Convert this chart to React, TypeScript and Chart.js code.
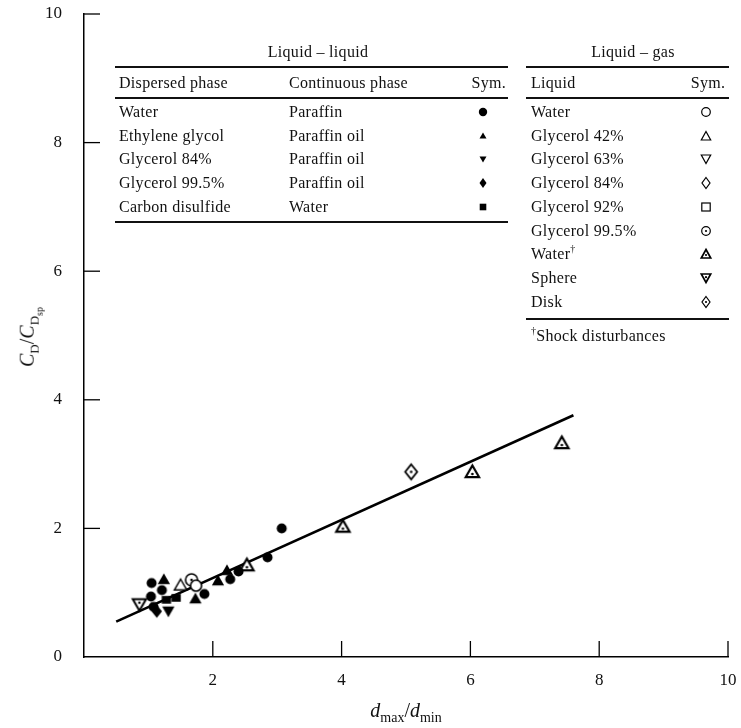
import React, { useEffect, useRef } from "react";
import { Chart, registerables } from "chart.js";
Chart.register(...registerables);

// ---------- axis ticks ----------
const xTicks = [2, 4, 6, 8, 10];
const yTicks = [0, 2, 4, 6, 8, 10];

// ---------- liquid – liquid (filled symbols) ----------
const waterParaffinX = [1.04, 1.05, 1.08, 1.21, 1.87, 2.27, 2.40, 2.85, 3.07];
const waterParaffinY = [0.94, 1.15, 0.78, 1.04, 0.98, 1.21, 1.33, 1.55, 2.00];
const ethyleneGlycolX = [1.24, 1.73, 2.08, 2.22];
const ethyleneGlycolY = [1.20, 0.90, 1.18, 1.34];
const glycerol84LLX = [1.31];
const glycerol84LLY = [0.72];
const glycerol995LLX = [1.13];
const glycerol995LLY = [0.71];
const carbonDisulfideX = [1.28, 1.43];
const carbonDisulfideY = [0.89, 0.92];

// ---------- liquid – gas (open symbols) ----------
const waterGasX = [1.74];
const waterGasY = [1.11];
const glycerol42X = [1.50];
const glycerol42Y = [1.11];
const glycerol995GasX = [1.67];
const glycerol995GasY = [1.20];
const waterShockX = [2.53, 4.02, 6.03, 7.42];
const waterShockY = [1.42, 2.02, 2.87, 3.32];
const sphereX = [0.86];
const sphereY = [0.83];
const diskX = [5.08];
const diskY = [2.88];

// ---------- correlation line ----------
const fitX = [0.5, 7.6];
const fitY = [0.55, 3.76];

// ---------- legend tables ----------
const llDispersed = ["Water", "Ethylene glycol", "Glycerol 84%", "Glycerol 99.5%", "Carbon disulfide"];
const llContinuous = ["Paraffin", "Paraffin oil", "Paraffin oil", "Paraffin oil", "Water"];
const llSymbols = ["fCircle", "fTri", "fTriDown", "fDiamond", "fSquare"];
const lgLiquids = ["Water", "Glycerol 42%", "Glycerol 63%", "Glycerol 84%", "Glycerol 92%", "Glycerol 99.5%", "Water", "Sphere", "Disk"];
const lgDagger = [false, false, false, false, false, false, true, false, false];
const lgSymbols = ["oCircle", "oTri", "oTriDown", "oDiamond", "oSquare", "oCircleDot", "oTriDot", "oTriDownDot", "oDiamondDot"];

const FONT = '"Liberation Serif", "Times New Roman", serif';

function zip(xs: number[], ys: number[]) {
  return xs.map((x, i) => ({ x, y: ys[i] }));
}

function shapePath(ctx: CanvasRenderingContext2D, kind: string, cx: number, cy: number, s: number) {
  ctx.beginPath();
  if (kind.includes("Circle")) {
    ctx.arc(cx, cy, s, 0, Math.PI * 2);
  } else if (kind.includes("TriDown")) {
    ctx.moveTo(cx - s * 0.95, cy - s * 0.65);
    ctx.lineTo(cx + s * 0.95, cy - s * 0.65);
    ctx.lineTo(cx, cy + s);
    ctx.closePath();
  } else if (kind.includes("Tri")) {
    ctx.moveTo(cx, cy - s);
    ctx.lineTo(cx + s * 0.95, cy + s * 0.65);
    ctx.lineTo(cx - s * 0.95, cy + s * 0.65);
    ctx.closePath();
  } else if (kind.includes("Diamond")) {
    ctx.moveTo(cx, cy - s);
    ctx.lineTo(cx + s * 0.8, cy);
    ctx.lineTo(cx, cy + s);
    ctx.lineTo(cx - s * 0.8, cy);
    ctx.closePath();
  } else {
    ctx.rect(cx - s * 0.85, cy - s * 0.7, s * 1.7, s * 1.4);
  }
}

function makeMarker(kind: string, s: number, lw: number) {
  const size = Math.ceil(2 * (s + lw + 1));
  const c = document.createElement("canvas");
  c.width = size;
  c.height = size;
  const ctx = c.getContext("2d")!;
  const cx = size / 2;
  const cy = size / 2;
  shapePath(ctx, kind, cx, cy, s);
  if (kind.startsWith("f")) {
    ctx.fillStyle = "#000";
    ctx.fill();
  } else {
    ctx.fillStyle = "#fff";
    ctx.fill();
    ctx.lineWidth = lw;
    ctx.strokeStyle = "#000";
    ctx.stroke();
    if (kind.endsWith("Dot")) {
      ctx.beginPath();
      const dy = kind.includes("TriDown") ? -1 : kind.includes("Tri") ? 1.5 : 0;
      ctx.arc(cx, cy + dy, 1.3, 0, Math.PI * 2);
      ctx.fillStyle = "#000";
      ctx.fill();
    }
  }
  return c;
}

function Sym({ kind }: { kind: string }) {
  const f = kind.startsWith("f");
  const common = f
    ? { fill: "#000" }
    : { fill: "none", stroke: "#000", strokeWidth: kind.endsWith("Dot") && kind.includes("Tri") ? 1.7 : 1.2 };
  let el: any = null;
  if (kind === "fCircle") el = <circle cx={7} cy={7} r={4.2} {...common} />;
  else if (kind === "fTri") el = <polygon points="7,3.5 10.5,9.5 3.5,9.5" {...common} />;
  else if (kind === "fTriDown") el = <polygon points="3.5,4.5 10.5,4.5 7,10.5" {...common} />;
  else if (kind === "fDiamond") el = <polygon points="7,2 10.5,7 7,12 3.5,7" {...common} />;
  else if (kind === "fSquare") el = <rect x={3.7} y={3.7} width={6.6} height={6.6} {...common} />;
  else if (kind.startsWith("oCircle")) el = <circle cx={7} cy={7} r={4.3} {...common} />;
  else if (kind.startsWith("oTriDown")) el = <polygon points="2.3,3 11.7,3 7,11.5" {...common} />;
  else if (kind.startsWith("oTri")) el = <polygon points="7,2.5 11.7,11 2.3,11" {...common} />;
  else if (kind.startsWith("oDiamond")) el = <polygon points="7,1.5 11,7 7,12.5 3,7" {...common} />;
  else if (kind.startsWith("oSquare")) el = <rect x={2.8} y={3} width={8.4} height={8} {...common} />;
  let dot: any = null;
  if (kind.endsWith("Dot")) {
    const dy = kind.includes("TriDown") ? 6.2 : kind.includes("Tri") ? 8 : 7;
    dot = <circle cx={7} cy={dy} r={1.1} fill="#000" />;
  }
  return (
    <svg width={14} height={14} viewBox="0 0 14 14" style={{ display: "block" }}>
      {el}
      {dot}
    </svg>
  );
}

function Txt({ x, y, children, align = "left", size = 16, style = {} }: any) {
  const tr = align === "center" ? "translateX(-50%)" : align === "right" ? "translateX(-100%)" : undefined;
  return (
    <div
      style={{
        position: "absolute",
        left: x,
        top: y - 11,
        height: 22,
        lineHeight: "22px",
        fontSize: size,
        whiteSpace: "nowrap",
        transform: tr,
        fontFamily: FONT,
        color: "#111",
        letterSpacing: "0.3px",
        ...style,
      }}
    >
      {children}
    </div>
  );
}

function Dagger() {
  return <span style={{ fontSize: 10, position: "relative", top: -7, lineHeight: 0 }}>†</span>;
}

function HLine({ x1, x2, y }: { x1: number; x2: number; y: number }) {
  return <div style={{ position: "absolute", left: x1, top: y - 1, width: x2 - x1, height: 2, background: "#111" }} />;
}

function SymAt({ x, y, kind }: { x: number; y: number; kind: string }) {
  return (
    <div style={{ position: "absolute", left: x - 7, top: y - 7 }}>
      <Sym kind={kind} />
    </div>
  );
}

export default function App() {
  const ref = useRef<HTMLCanvasElement | null>(null);

  useEffect(() => {
    document.body.style.margin = "0";
    const canvas = ref.current!;
    const M = (k: string, s: number, lw = 1.5) => makeMarker(k, s, lw);

    const inwardTicks = {
      id: "inwardTicks",
      afterDraw(chart: any) {
        const { ctx, scales, chartArea } = chart;
        const { x, y } = scales;
        ctx.save();
        ctx.strokeStyle = "#000";
        ctx.lineWidth = 1.3;
        for (const v of xTicks) {
          const px = x.getPixelForValue(v);
          ctx.beginPath();
          ctx.moveTo(px, chartArea.bottom);
          ctx.lineTo(px, chartArea.bottom - 16);
          ctx.stroke();
        }
        for (const v of yTicks) {
          if (v === 0) continue;
          const py = y.getPixelForValue(v);
          ctx.beginPath();
          ctx.moveTo(chartArea.left, py);
          ctx.lineTo(chartArea.left + 16, py);
          ctx.stroke();
        }
        ctx.restore();
      },
    };

    const pts = (label: string, xs: number[], ys: number[], img: HTMLCanvasElement) => ({
      label,
      data: zip(xs, ys),
      pointStyle: img,
      pointRadius: 5,
      showLine: false,
      order: 0,
    });

    const chart = new Chart(canvas, {
      type: "scatter",
      data: {
        datasets: [
          {
            label: "fit",
            data: zip(fitX, fitY),
            showLine: true,
            borderColor: "#000",
            borderWidth: 2.6,
            pointRadius: 0,
            order: 10,
          } as any,
          pts("Water/Paraffin", waterParaffinX, waterParaffinY, M("fCircle", 5)),
          pts("Ethylene glycol", ethyleneGlycolX, ethyleneGlycolY, M("fTri", 6.5)),
          pts("Glycerol 84% LL", glycerol84LLX, glycerol84LLY, M("fTriDown", 6.5)),
          pts("Glycerol 99.5% LL", glycerol995LLX, glycerol995LLY, M("fDiamond", 6.5)),
          pts("Carbon disulfide", carbonDisulfideX, carbonDisulfideY, M("fSquare", 5.5)),
          pts("Water gas", waterGasX, waterGasY, M("oCircle", 5.5, 1.6)),
          pts("Glycerol 42%", glycerol42X, glycerol42Y, M("oTri", 6.5, 1.5)),
          pts("Glycerol 99.5% gas", glycerol995GasX, glycerol995GasY, M("oCircleDot", 6, 1.6)),
          pts("Water shock", waterShockX, waterShockY, M("oTriDot", 7, 2.2)),
          pts("Sphere", sphereX, sphereY, M("oTriDownDot", 7, 2)),
          pts("Disk", diskX, diskY, M("oDiamondDot", 7.5, 1.8)),
        ] as any,
      },
      options: {
        animation: false,
        responsive: false,
        layout: { padding: { top: 14, right: 13, left: 0, bottom: 0 } },
        plugins: { legend: { display: false }, tooltip: { enabled: false } },
        scales: {
          x: {
            type: "linear",
            min: 0,
            max: 10,
            afterBuildTicks: (s: any) => {
              s.ticks = xTicks.map((v) => ({ value: v }));
            },
            afterFit: (s: any) => {
              s.height = 71;
              s.paddingLeft = 0;
              s.paddingRight = 0;
            },
            ticks: { font: { family: FONT, size: 17 }, color: "#111", padding: 13, maxRotation: 0, autoSkip: false },
            grid: { drawOnChartArea: false, drawTicks: false, color: "rgba(0,0,0,0)" },
            border: { display: true, color: "#000", width: 1.5 },
          },
          y: {
            type: "linear",
            min: 0,
            max: 10,
            afterBuildTicks: (s: any) => {
              s.ticks = yTicks.map((v) => ({ value: v }));
            },
            afterFit: (s: any) => {
              s.width = 84;
              s.paddingTop = 0;
              s.paddingBottom = 0;
            },
            ticks: { font: { family: FONT, size: 17 }, color: "#111", padding: 22, autoSkip: false },
            grid: { drawOnChartArea: false, drawTicks: false, color: "rgba(0,0,0,0)" },
            border: { display: true, color: "#000", width: 1.5 },
          },
        },
      } as any,
      plugins: [inwardTicks],
    });
    return () => chart.destroy();
  }, []);

  // table geometry
  const rowY = (i: number) => 112 + i * 23.7;
  const llL = 115, llR = 508, lgL = 526, lgR = 729;
  const lgSymX = 706;

  return (
    <div style={{ position: "relative", width: 741, height: 728, overflow: "hidden", background: "#fff" }}>
      <canvas ref={ref} width={741} height={728} style={{ position: "absolute", left: 0, top: 0 }} />

      {/* Liquid – liquid table */}
      <Txt x={318} y={52} align="center">Liquid – liquid</Txt>
      <HLine x1={llL} x2={llR} y={67} />
      <Txt x={119} y={83}>Dispersed phase</Txt>
      <Txt x={289} y={83}>Continuous phase</Txt>
      <Txt x={llR - 2} y={83} align="right">Sym.</Txt>
      <HLine x1={llL} x2={llR} y={98} />
      {llDispersed.map((d, i) => (
        <React.Fragment key={"ll" + i}>
          <Txt x={119} y={rowY(i)}>{d}</Txt>
          <Txt x={289} y={rowY(i)}>{llContinuous[i]}</Txt>
          <SymAt x={483} y={rowY(i)} kind={llSymbols[i]} />
        </React.Fragment>
      ))}
      <HLine x1={llL} x2={llR} y={222} />

      {/* Liquid – gas table */}
      <Txt x={633} y={52} align="center">Liquid – gas</Txt>
      <HLine x1={lgL} x2={lgR} y={67} />
      <Txt x={531} y={83}>Liquid</Txt>
      <Txt x={lgSymX + 2} y={83} align="center">Sym.</Txt>
      <HLine x1={lgL} x2={lgR} y={98} />
      {lgLiquids.map((d, i) => (
        <React.Fragment key={"lg" + i}>
          <Txt x={531} y={rowY(i)}>
            {d}
            {lgDagger[i] ? <Dagger /> : null}
          </Txt>
          <SymAt x={lgSymX} y={rowY(i)} kind={lgSymbols[i]} />
        </React.Fragment>
      ))}
      <HLine x1={lgL} x2={lgR} y={319} />
      <Txt x={531} y={336}>
        <Dagger />Shock disturbances
      </Txt>

      {/* axis titles */}
      <div
        style={{
          position: "absolute",
          left: 30,
          top: 337,
          transform: "translate(-50%, -50%) rotate(-90deg)",
          fontFamily: FONT,
          fontSize: 20,
          whiteSpace: "nowrap",
          color: "#111",
        }}
      >
        <i>C</i>
        <sub style={{ fontSize: 13 }}>D</sub>/<i>C</i>
        <sub style={{ fontSize: 13 }}>
          D<sub style={{ fontSize: 10 }}>sp</sub>
        </sub>
      </div>
      <div
        style={{
          position: "absolute",
          left: 406,
          top: 712,
          transform: "translate(-50%, -50%)",
          fontFamily: FONT,
          fontSize: 20,
          whiteSpace: "nowrap",
          color: "#111",
        }}
      >
        <i>d</i>
        <sub style={{ fontSize: 14 }}>max</sub>/<i>d</i>
        <sub style={{ fontSize: 14 }}>min</sub>
      </div>
    </div>
  );
}
